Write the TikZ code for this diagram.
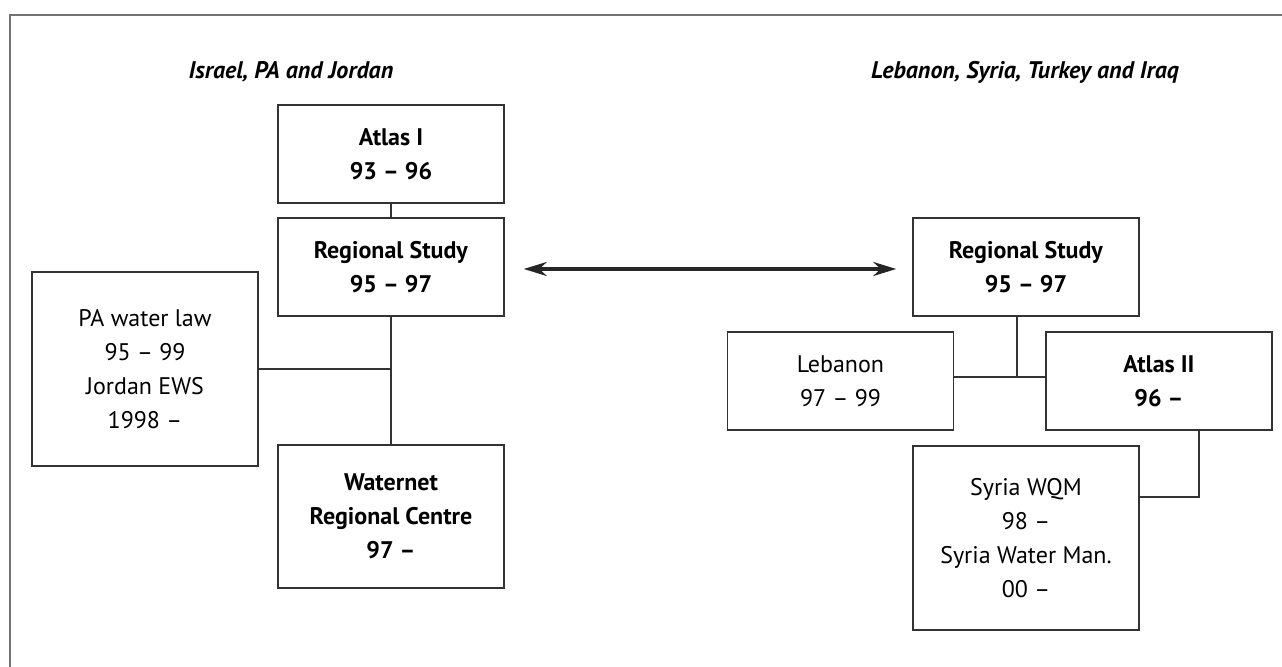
\documentclass[tikz,border=0pt]{standalone}
\usepackage{fontspec}
\setmainfont{PT Sans}
\usetikzlibrary{arrows.meta}
\tikzset{
  box/.style={draw=black!80,line width=0.75pt,minimum width=113pt,align=center,inner sep=0pt},
  link/.style={draw=black!80,line width=0.75pt},
  title/.style={font=\bfseries\itshape\fontsize{12}{17}\selectfont}
}
\begin{document}
\begin{tikzpicture}[x=0.5pt,y=-0.5pt,font=\fontsize{12}{17}\selectfont]
  \useasboundingbox (0,0) rectangle (1282,667);
  \draw[black!55,line width=0.75pt] (1282,15) -- (10,15) -- (10,667);
  % titles
  \node[title] (tL) at (291,72) {Israel, PA and Jordan};
  \node[title] (tR) at (1025,72) {Lebanon, Syria, Turkey and Iraq};
  % left side
  \node[box,minimum height=49pt] (atlasI) at (391,154) {\textbf{Atlas I}\\\textbf{93 – 96}};
  \node[box,minimum height=49pt] (rsL) at (391,267) {\textbf{Regional Study}\\\textbf{95 – 97}};
  \node[box,minimum height=97pt] (pa) at (145,369) {PA water law\\95 – 99\\Jordan EWS\\1998 –};
  \node[box,minimum height=71.5pt] (waternet) at (391,516.5) {\textbf{Waternet}\\\textbf{Regional Centre}\\\textbf{97 –}};
  % right side
  \node[box,minimum height=49pt] (rsR) at (1026,267) {\textbf{Regional Study}\\\textbf{95 – 97}};
  \node[box,minimum height=49pt] (lebanon) at (840.5,381) {Lebanon\\97 – 99};
  \node[box,minimum height=49pt] (atlasII) at (1159,381) {\textbf{Atlas II}\\\textbf{96 –}};
  \node[box,minimum height=92pt] (syria) at (1026,538) {Syria WQM\\98 –\\Syria Water Man.\\00 –};
  \coordinate (hubR) at (1017,377);
  \coordinate (hubS) at (1199,497);
  % connectors
  \draw[link] (atlasI) -- (rsL);
  \draw[link] (rsL) -- (waternet);
  \draw[link] (pa.east) -- (pa.east -| rsL.south);
  \draw[link] (hubR |- rsR.south) -- (hubR);
  \draw[link] (hubR -| lebanon.east) -- (hubR -| atlasII.west);
  \draw[link] (hubS |- atlasII.south) -- (hubS) -- (hubS -| syria.east);
  \draw[black!85,line width=1.8pt,{Stealth[length=11.5pt,width=7pt]}-{Stealth[length=11.5pt,width=7pt]}] (rsL.east) ++(19,2) coordinate (aL) (rsR.west) ++(-16,2) coordinate (aR) (aL) -- (aR);
\end{tikzpicture}
\end{document}
